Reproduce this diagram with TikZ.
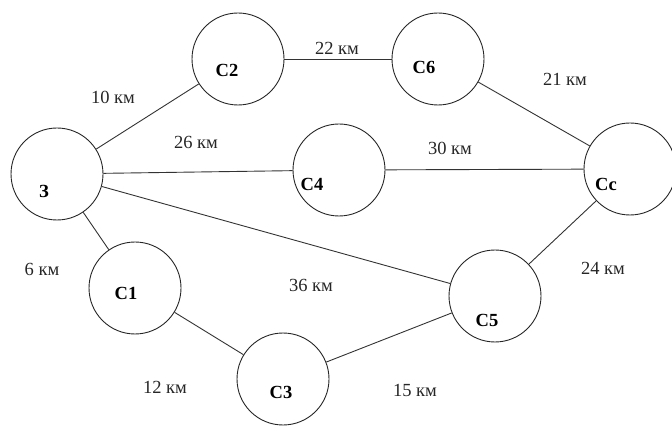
\documentclass[tikz,border=0pt]{standalone}
\usepackage{fontspec}
\setmainfont{Liberation Serif}
\begin{document}
\begin{tikzpicture}[x=1pt,y=-1pt,
  town/.style={circle,draw=black!85,line width=0.9pt,minimum size=92pt,inner sep=0pt},
  tname/.style={font=\fontsize{18.5}{18.5}\selectfont\bfseries,inner sep=0pt},
  dist/.style={font=\fontsize{18.5}{18.5}\selectfont,inner sep=0pt,text=black!85},
  road/.style={draw=black!80,line width=0.9pt}]
\useasboundingbox (0,0) rectangle (672,430);
\node[town] (Z) at (57,174) {};
\node[town] (C2) at (238,59) {};
\node[town] (C6) at (438,59) {};
\node[town] (C4) at (339,170) {};
\node[town] (Cc) at (630,169) {};
\node[town] (C1) at (135,288) {};
\node[town] (C3) at (283,379) {};
\node[town] (C5) at (495,296) {};
\node[tname] (tZ) at (44,191) {З};
\node[tname] (tC2) at (227,70) {С2};
\node[tname] (tC6) at (424,67) {С6};
\node[tname] (tC4) at (312,184) {С4};
\node[tname] (tCc) at (606,184) {Сс};
\node[tname] (tC1) at (126,293) {С1};
\node[tname] (tC3) at (281,392) {С3};
\node[tname] (tC5) at (487,320) {С5};
\draw[road] (Z) -- (C2);
\draw[road] (Z) -- (C4);
\draw[road] (Z) -- (C5);
\draw[road] (Z) -- (C1);
\draw[road] (C2) -- (C6);
\draw[road] (C6) -- (Cc);
\draw[road] (C4) -- (Cc);
\draw[road] (Cc) -- (C5);
\draw[road] (C1) -- (C3);
\draw[road] (C3) -- (C5);
\node[dist] (d1) at (113,97) {10 км};
\node[dist] (d2) at (196,142) {26 км};
\node[dist] (d3) at (337,48) {22 км};
\node[dist] (d4) at (565,79) {21 км};
\node[dist] (d5) at (450,148) {30 км};
\node[dist] (d6) at (42,269) {6 км};
\node[dist] (d7) at (311,285) {36 км};
\node[dist] (d8) at (603,268) {24 км};
\node[dist] (d9) at (165,387) {12 км};
\node[dist] (d10) at (415,390) {15 км};
\end{tikzpicture}
\end{document}
